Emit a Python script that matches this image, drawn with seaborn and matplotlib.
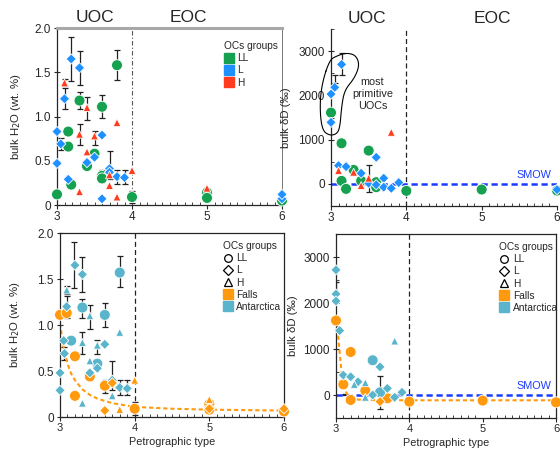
import numpy as np
import pandas as pd
import seaborn as sns
import matplotlib.pyplot as plt
import matplotlib.ticker as mticker
from matplotlib.lines import Line2D

# ---------------- data ----------------
# top left: bulk H2O (wt. %) coloured by OC group
tl_ll_x = [3.0, 3.15, 3.15, 3.19, 3.3, 3.4, 3.5, 3.6, 3.6, 3.6, 3.8, 4.0, 5.0, 5.0, 6.0]
tl_ll_y = [0.12, 0.83, 0.66, 0.23, 1.18, 0.44, 0.58, 1.11, 0.33, 0.30, 1.58, 0.09, 0.14, 0.08, 0.05]
tl_l_x = [3.0, 3.0, 3.05, 3.1, 3.19, 3.3, 3.15, 3.4, 3.5, 3.6, 3.6, 3.7, 3.7, 3.8, 3.9, 6.0, 6.0]
tl_l_y = [0.47, 0.83, 0.69, 1.20, 1.65, 1.55, 0.29, 0.48, 0.54, 0.79, 0.07, 0.41, 0.37, 0.32, 0.31, 0.07, 0.12]
tl_h_x = [3.1, 3.3, 3.3, 3.4, 3.4, 3.5, 3.7, 3.7, 3.8, 3.8, 4.0, 5.0]
tl_h_y = [1.38, 0.80, 0.15, 1.10, 0.60, 0.78, 0.22, 0.34, 0.93, 0.09, 0.39, 0.19]
h2o_err_x = [3.05, 3.1, 3.19, 3.3, 3.3, 3.3, 3.4, 3.5, 3.6, 3.7, 3.8, 3.8, 3.9, 3.1, 4.0, 3.6]
h2o_err_y = [0.69, 1.20, 1.65, 1.55, 1.18, 0.80, 1.09, 0.76, 1.11, 0.45, 1.58, 0.32, 0.32, 1.38, 0.09, 0.33]
h2o_err = [0.07, 0.12, 0.25, 0.19, 0.10, 0.12, 0.13, 0.08, 0.13, 0.16, 0.17, 0.08, 0.08, 0.04, 0.07, 0.07]

# top right: bulk dD (permil) coloured by OC group
tr_ll_x = [3.0, 3.14, 3.14, 3.2, 3.3, 3.4, 3.5, 3.6, 3.6, 4.0, 5.0, 6.0]
tr_ll_y = [1610, 917, 68, -113, 316, 68, 752, 38, -75, -158, -128, -150]
tr_l_x = [3.14, 3.05, 3.0, 3.0, 3.1, 3.2, 3.4, 3.6, 3.7, 3.9, 3.5, 3.6, 3.7, 3.8, 6.0]
tr_l_y = [2700, 2180, 2030, 1390, 413, 390, 240, 600, 128, 30, 15, -20, -75, -100, -130]
tr_h_x = [3.1, 3.3, 3.4, 3.5, 3.8]
tr_h_y = [300, 263, -38, 128, 1165]
tr_err_x = [3.14, 3.05, 3.5]
tr_err_y = [2700, 2370, 120]
tr_err = [250, 80, 300]

# bottom left: bulk H2O, shape = group, colour = falls / Antarctica
bl_x = [3.15, 3.3, 3.6, 3.8, 3.5,
        3.0, 3.09, 3.2, 3.2, 3.4, 3.6, 4.0, 5.0, 5.0, 6.0,
        3.2, 3.3, 3.09, 3.05, 3.06, 3.0, 3.0, 3.4, 3.5, 3.6, 3.7, 3.8, 3.9,
        3.6, 3.7, 5.0, 6.0,
        3.09, 3.4, 3.3, 3.4, 3.5, 3.3, 3.7, 3.8,
        3.8, 4.0, 5.0]
bl_y = [0.83, 1.19, 1.11, 1.57, 0.58,
        1.11, 1.13, 0.66, 0.23, 0.44, 0.34, 0.09, 0.14, 0.08, 0.06,
        1.65, 1.55, 1.20, 0.83, 0.69, 0.48, 0.29, 0.48, 0.53, 0.79, 0.40, 0.32, 0.31,
        0.07, 0.37, 0.09, 0.09,
        1.38, 1.10, 0.81, 0.61, 0.78, 0.15, 0.23, 0.92,
        0.08, 0.40, 0.19]
bl_group = ['LL'] * 15 + ['L'] * 17 + ['H'] * 11
bl_origin = (['Antarctica'] * 5 + ['Falls'] * 10 + ['Antarctica'] * 13 + ['Falls'] * 4
             + ['Antarctica'] * 8 + ['Falls'] * 3)
bl_fit_x = [3.0, 3.05, 3.1, 3.15, 3.2, 3.3, 3.4, 3.5, 3.7, 4.0, 4.5, 5.0, 6.0]
bl_fit_y = [1.02, 0.75, 0.58, 0.47, 0.40, 0.30, 0.24, 0.20, 0.15, 0.11, 0.09, 0.08, 0.07]

# bottom right: bulk dD, shape = group, colour = falls / Antarctica
br_x = [3.0, 3.2, 3.1, 3.2, 3.4, 3.7, 4.0, 5.0, 6.0,
        3.5, 3.6,
        3.0, 3.0, 3.0, 3.05, 3.1, 3.2, 3.3, 3.6, 3.7, 3.9, 3.5, 3.8,
        3.6,
        3.8, 3.4, 3.25, 3.4]
br_y = [1619, 935, 230, -108, 94, -72, -144, -122, -159,
        755, 58,
        2720, 2195, 2043, 1400, 432, 396, 288, 612, 144, 58, 0, -50,
        -144,
        1173, 266, 230, -50]
br_group = ['LL'] * 11 + ['L'] * 13 + ['H'] * 4
br_origin = (['Falls'] * 9 + ['Antarctica'] * 2 + ['Antarctica'] * 12 + ['Falls']
             + ['Antarctica'] * 4)
br_err_x = [3.6, 3.0, 3.12]
br_err_y = [58, 2330, 20]
br_err = [360, 130, 10]
br_fit_x = [3.0, 3.02, 3.04, 3.06, 3.08, 3.1, 3.15, 3.2, 3.3, 3.5, 4.0, 5.0, 6.0]
br_fit_y = [1750, 1450, 1100, 750, 420, 220, 20, -60, -100, -110, -115, -115, -115]

# outline of the "most primitive UOCs" loop
loop_x = [2.98, 2.88, 2.85, 2.88, 2.98, 3.08, 3.12, 3.14, 3.18, 3.31, 3.38, 3.33, 3.2, 3.07]
loop_y = [2797, 2270, 1744, 1218, 1090, 1128, 1293, 1744, 2120, 2383, 2684, 2910, 2962, 2887]

groups = ['LL', 'L', 'H']
group_colors = {'LL': '#15a150', 'L': '#1e90ff', 'H': '#ff3c1e'}
origin_colors = {'Falls': '#ff9a0e', 'Antarctica': '#5ab4cc'}
markers = {'LL': 'o', 'L': 'D', 'H': '^'}
sizes = {'LL': 62, 'L': 27, 'H': 32}

sns.set_style('ticks')
plt.rcParams['font.family'] = ['Liberation Sans', 'DejaVu Sans']
plt.rcParams['axes.linewidth'] = 0.9


def group_frame(xs, ys):
    parts = []
    for g, (x, y) in zip(groups, zip(xs, ys)):
        parts.append(pd.DataFrame({'x': x, 'y': y, 'group': g}))
    return pd.concat(parts, ignore_index=True)


def chaikin(pts, n=4):
    pts = np.asarray(pts, float)
    for _ in range(n):
        nxt = np.roll(pts, -1, axis=0)
        q = 0.75 * pts + 0.25 * nxt
        r = 0.25 * pts + 0.75 * nxt
        pts = np.empty((2 * len(q), 2))
        pts[0::2] = q
        pts[1::2] = r
    return np.vstack([pts, pts[:1]])


def style_axes(ax, water, xsize=8.5):
    ax.set_xlim(3, 6)
    ax.set_xticks([3, 4, 5, 6])
    ax.xaxis.set_minor_locator(mticker.MultipleLocator(0.1))
    ax.tick_params(axis='x', which='major', direction='out', length=3, width=0.8, labelsize=xsize, pad=1.5)
    ax.tick_params(axis='x', which='minor', direction='in', length=2.5, width=0.6)
    ax.tick_params(axis='y', which='major', direction='inout', length=5, width=0.8, labelsize=8.5, pad=2)
    if water:
        ax.set_ylim(0, 2.0)
        ax.set_yticks([0, 0.5, 1.0, 1.5, 2.0])
        ax.yaxis.set_major_formatter(mticker.FuncFormatter(lambda v, p: '0' if v == 0 else f'{v:.1f}'))
    else:
        ax.set_ylim(-500, 3500)
        ax.set_yticks([0, 1000, 2000, 3000])
        ax.yaxis.set_minor_locator(mticker.MultipleLocator(500))
        ax.tick_params(axis='y', which='minor', direction='in', length=2.5, width=0.6)
    ax.set_xlabel('')
    ax.set_ylabel('')


def errbars(ax, x, y, e):
    ax.errorbar(x, y, yerr=e, fmt='none', ecolor='#222222', elinewidth=0.9,
                capsize=2, capthick=0.9, zorder=1)


fig = plt.figure(figsize=(5.6, 4.5), dpi=100)
W, H = 560, 450


def px_axes(l, r, t, b):
    return fig.add_axes([l / W, (H - b) / H, (r - l) / W, (b - t) / H])


ax_tl = px_axes(57, 282, 28, 205)
ax_tr = px_axes(331, 557, 29, 206)
ax_bl = px_axes(60, 284, 233, 417)
ax_br = px_axes(336, 556, 234, 418)

leg_kw = dict(frameon=False, fontsize=7.3, handlelength=0.9, handletextpad=0.4,
              labelspacing=0.22, borderpad=0)

# ---- top left
df_tl = group_frame([tl_ll_x, tl_l_x, tl_h_x], [tl_ll_y, tl_l_y, tl_h_y])
errbars(ax_tl, h2o_err_x, h2o_err_y, h2o_err)
sns.scatterplot(data=df_tl, x='x', y='y', hue='group', style='group', size='group',
                palette=group_colors, markers=markers, sizes=sizes,
                edgecolor='white', linewidth=0.6, legend=False, ax=ax_tl, zorder=3, clip_on=False)
style_axes(ax_tl, True)
ax_tl.axvline(4, color='#555555', lw=0.8, ls=(0, (4, 2, 1, 2)), zorder=0)
ax_tl.spines['top'].set_color('#a8a8a8')
ax_tl.spines['top'].set_linewidth(2.2)
ax_tl.spines['right'].set_color('#777777')
ax_tl.spines['right'].set_linewidth(0.7)
ax_tl.set_ylabel('bulk H$_2$O (wt. %)', fontsize=8.2, labelpad=8)
ax_tl.legend(handles=[Line2D([], [], ls='', marker='s', markersize=7, color=group_colors[g], label=g)
                      for g in groups],
             title='OCs groups', loc='upper left', bbox_to_anchor=(0.72, 0.955),
             title_fontsize=7.3, alignment='left', **leg_kw)

# ---- top right
df_tr = group_frame([tr_ll_x, tr_l_x, tr_h_x], [tr_ll_y, tr_l_y, tr_h_y])
errbars(ax_tr, tr_err_x, tr_err_y, tr_err)
sns.scatterplot(data=df_tr, x='x', y='y', hue='group', style='group', size='group',
                palette=group_colors, markers=markers, sizes=sizes,
                edgecolor='white', linewidth=0.6, legend=False, ax=ax_tr, zorder=3, clip_on=False)
style_axes(ax_tr, False)
ax_tr.spines['top'].set_visible(False)
ax_tr.spines['right'].set_visible(False)
ax_tr.axvline(4, color='#222222', lw=0.9, ls=(0, (4, 2.5)), zorder=0)
ax_tr.axhline(0, color='#1a3cff', lw=1.8, ls=(0, (2.5, 1.5)), zorder=2)
ax_tr.text(5.93, 90, 'SMOW', color='#1a3cff', fontsize=7.8, ha='right', va='bottom')
lp = chaikin(np.column_stack([loop_x, loop_y]))
ax_tr.plot(lp[:, 0], lp[:, 1], color='black', lw=0.8, clip_on=False, zorder=4)
ax_tr.text(3.55, 2020, 'most\nprimitive\nUOCs', fontsize=7.8, ha='center', va='center', linespacing=1.25)
ax_tr.set_ylabel('bulk δD (‰)', fontsize=8.2, labelpad=5)

for ax, xu, xe in [(ax_tl, 3.51, 4.75), (ax_tr, 3.48, 5.14)]:
    tr = ax.get_xaxis_transform()
    ax.text(xu, 1.015, 'UOC', transform=tr, fontsize=12.5, ha='center', va='bottom')
    ax.text(xe, 1.015, 'EOC', transform=tr, fontsize=12.5, ha='center', va='bottom')

# ---- bottom panels
df_bl = pd.DataFrame({'x': bl_x, 'y': bl_y, 'group': bl_group, 'origin': bl_origin})
df_br = pd.DataFrame({'x': br_x, 'y': br_y, 'group': br_group, 'origin': br_origin})

errbars(ax_bl, h2o_err_x, h2o_err_y, h2o_err)
errbars(ax_br, br_err_x, br_err_y, br_err)
ax_bl.plot(bl_fit_x, bl_fit_y, color=origin_colors['Falls'], lw=1.5, ls=(0, (2, 1.4)), zorder=2)
ax_br.plot(br_fit_x, br_fit_y, color=origin_colors['Falls'], lw=1.5, ls=(0, (2, 1.4)), zorder=2)
ax_br.axhline(0, color='#1a3cff', lw=1.8, ls=(0, (2.5, 1.5)), zorder=1.5)
ax_br.text(5.93, 90, 'SMOW', color='#1a3cff', fontsize=7.8, ha='right', va='bottom')

for ax, df, water in [(ax_bl, df_bl, True), (ax_br, df_br, False)]:
    sns.scatterplot(data=df, x='x', y='y', hue='origin', style='group', size='group',
                    palette=origin_colors, markers=markers, sizes=sizes,
                    edgecolor='white', linewidth=0.6, legend=False, ax=ax, zorder=3, clip_on=False)
    style_axes(ax, water, xsize=8)
    ax.axvline(4, color='#222222', lw=0.9, ls=(0, (4, 2.5)), zorder=0)
    shape_h = [Line2D([], [], ls='', marker=markers[g], markersize=5.5, markerfacecolor='none',
                      markeredgecolor='black', markeredgewidth=0.9, label=g) for g in groups]
    col_h = [Line2D([], [], ls='', marker='s', markersize=7, color=origin_colors[o], label=o)
             for o in ['Falls', 'Antarctica']]
    bx = 0.705 if water else 0.72
    l1 = ax.legend(handles=shape_h, title='OCs groups', loc='upper left', bbox_to_anchor=(bx, 0.985),
                   title_fontsize=7.3, alignment='left', **leg_kw)
    ax.add_artist(l1)
    ax.legend(handles=col_h, loc='upper left', bbox_to_anchor=(bx, 0.72), **leg_kw)

ax_bl.set_ylabel('bulk H$_2$O (wt. %)', fontsize=8.2, labelpad=11)
ax_br.set_ylabel('bulk δD (‰)', fontsize=8.2, labelpad=4)
for ax in (ax_bl, ax_br):
    ax.set_xlabel('Petrographic type', fontsize=7.8, va='top')
    ax.xaxis.set_label_coords(0.5, -0.106)

fig.savefig('out.png', dpi=100)
